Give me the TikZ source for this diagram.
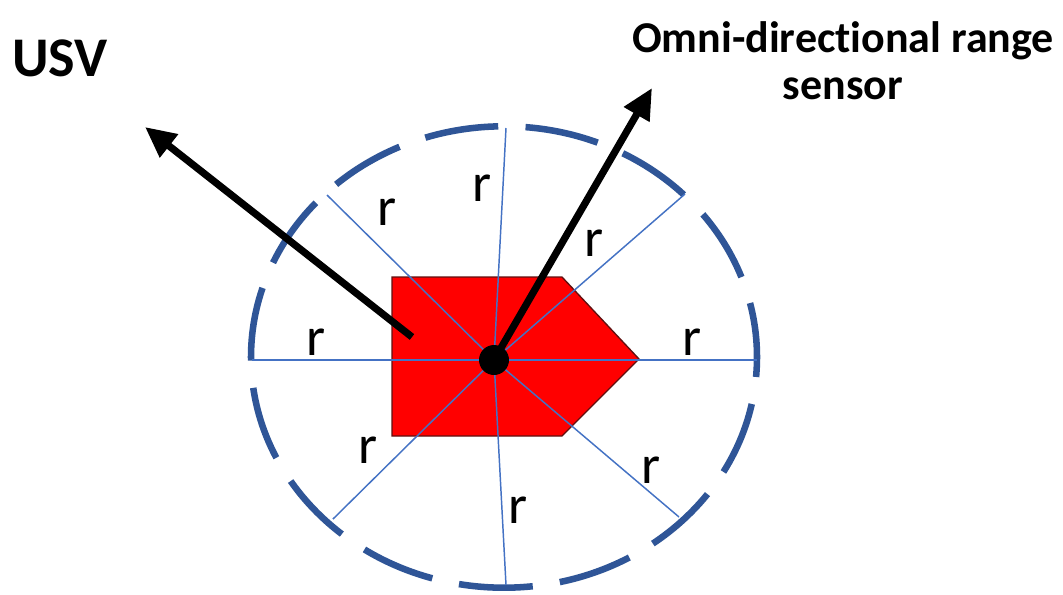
\documentclass[tikz,border=0pt]{standalone}
\usepackage{fontspec}
\setmainfont{Carlito}[Ligatures=NoCommon]
\usetikzlibrary{arrows.meta}
\definecolor{ringblue}{RGB}{47,85,151}
\definecolor{rayblue}{RGB}{68,114,196}
\definecolor{shipred}{RGB}{255,0,0}
\definecolor{shipedge}{RGB}{96,16,16}
\begin{document}
\begin{tikzpicture}[x=0.75pt,y=-0.75pt,
  ring/.style={draw=ringblue, line width=4.9pt, dash pattern=on 55.5pt off 20.5pt, dash phase=40.5pt},
  ray/.style={draw=rayblue, line width=1.1pt},
  rlabel/.style={inner sep=0pt, font=\fontsize{41}{41}\selectfont},
  pointer/.style={draw=black, line width=5.4pt, -{Triangle[length=23pt,width=21pt]}},
  title/.style={inner sep=0pt, font=\fontsize{42}{48}\selectfont\bfseries},
  subtitle/.style={inner sep=0pt, align=center, font=\fontsize{33}{35.5}\selectfont\bfseries}]
\useasboundingbox (0,0) rectangle (1063,594);
\fill[white] (0,0) rectangle (1063,594);
% sensing range
\draw[ring] (504,357) ellipse [x radius=253, y radius=230.7];
% ray end points
\coordinate (c) at (494,360);
\coordinate (eL) at (252,360);
\coordinate (eR) at (757,360);
\coordinate (eT) at (506,128);
\coordinate (eB) at (506,585);
\coordinate (eUL) at (327,195);
\coordinate (eUR) at (685,194);
\coordinate (eLL) at (333,519);
\coordinate (eLR) at (679,517);
% USV hull
\filldraw[fill=shipred, draw=shipedge, line width=1pt] (392,277) -- (562,277) -- (639,359) -- (562,436) -- (392,436) -- cycle;
% rays
\foreach \e in {eL,eR,eT,eB,eUL,eUR,eLL,eLR} \draw[ray] (c) -- (\e);
% sensor dot
\fill[black] (c) circle [radius=15];
% labels r
\node[rlabel] (rT) at (482,188) {r};
\node[rlabel] (rUL) at (387,212) {r};
\node[rlabel] (rUR) at (594,243) {r};
\node[rlabel] (rL) at (316,342) {r};
\node[rlabel] (rR) at (692,342) {r};
\node[rlabel] (rLL) at (368,450) {r};
\node[rlabel] (rLR) at (651,470) {r};
\node[rlabel] (rB) at (518,510) {r};
% titles
\node[title, anchor=base west] (usv) at (12,76) {USV};
\node[subtitle] (sensor) at (843,61) {Omni-directional range\\sensor};
% pointers
\coordinate (usvTail) at (412,337);
\coordinate (usvTip) at (145,127);
\coordinate (senTip) at (652,88);
\draw[pointer] (usvTail) -- (usvTip);
\draw[pointer] (c) -- (senTip);
\end{tikzpicture}
\end{document}
